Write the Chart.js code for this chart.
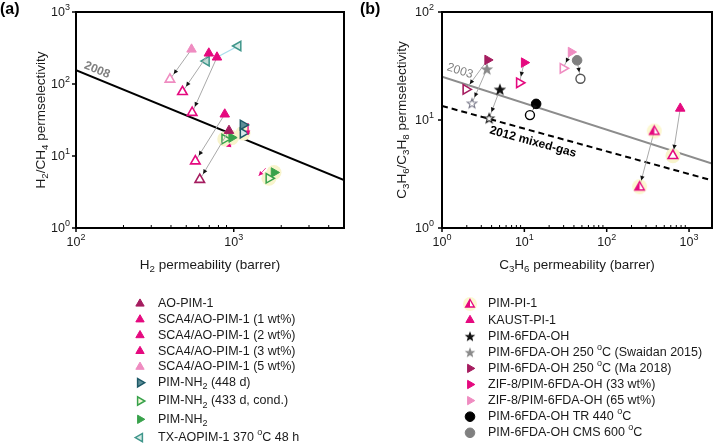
<!DOCTYPE html>
<html><head><meta charset="utf-8">
<script src="https://cdn.jsdelivr.net/npm/chart.js@4.4.1/dist/chart.umd.min.js"></script>
<style>
html,body{margin:0;padding:0;background:#fff;width:720px;height:444px;overflow:hidden}
#wrap{position:relative;width:720px;height:444px}
canvas{position:absolute;top:0}
#ca{left:0}#cb{left:360px}
</style></head><body>
<div id="wrap"><canvas id="ca" width="360" height="444"></canvas><canvas id="cb" width="360" height="444"></canvas></div>
<script>
// ================= DATA =================
// Panel (a): H2 permeability (barrer) vs H2/CH4 permselectivity. Each pair = [fresh, aged]
const aLegend = ['AO-PIM-1','SCA4/AO-PIM-1 (1 wt%)','SCA4/AO-PIM-1 (2 wt%)','SCA4/AO-PIM-1 (3 wt%)','SCA4/AO-PIM-1 (5 wt%)','PIM-NH_{2} (448 d)','PIM-NH_{2} (433 d, cond.)','PIM-NH_{2}','TX-AOPIM-1 370 ^{o}C 48 h'];
const h2AoPim1   = [[933, 22.5], [609, 4.7]];
const h2Sca4w1   = [[877, 38], [571, 8.5]];
const h2Sca4w2   = [[783, 235], [545, 40]];
const h2Sca4w3   = [[695, 267], [473, 78]];
const h2Sca4w5   = [[540, 303], [394, 116]];
const h2PimNh2d448 = [[1146, 27], [1146, 20.8]];
const h2PimNh2d433 = [[877, 17.2], [1671, 4.9]];
const h2PimNh2     = [[970, 18], [1800, 5.9]];
const h2TxAoPim1   = [[1065, 337], [671, 208]];
const h2SmallArrows = [[[1596, 6.8], [1439, 5.3]], [[966, 14.2], [899, 13.5]], [[1233, 28.7], [1233, 19.6]]];
const h2Bound2008  = [[100, 156], [5000, 4.64]];
const aXRange = [100, 5000];
const aYRange = [1, 1000];

// Panel (b): C3H6 permeability (barrer) vs C3H6/C3H8 permselectivity. Each pair = [fresh, aged]
const bLegend = ['PIM-PI-1','KAUST-PI-1','PIM-6FDA-OH','PIM-6FDA-OH 250 ^{o}C (Swaidan 2015)','PIM-6FDA-OH 250 ^{o}C (Ma 2018)','ZIF-8/PIM-6FDA-OH (33 wt%)','ZIF-8/PIM-6FDA-OH (65 wt%)','PIM-6FDA-OH TR 440 ^{o}C','PIM-6FDA-OH CMS 600 ^{o}C'];
const c3PimPi1    = [[378, 7.9], [251, 2.41]];
const c3KaustPi1  = [[782, 12.8], [637, 4.67]];
const c36fdaOh    = [[5.05, 19.2], [3.74, 10.4]];
const c3Swaidan   = [[3.51, 29.6], [2.31, 14.3]];
const c3Ma2018    = [[3.58, 36], [1.95, 19.2]];
const c3Zif33     = [[9.95, 34], [8.7, 22.1]];
const c3Zif65     = [[36.9, 42.6], [29.5, 30.1]];
const c3Tr440     = [[13.9, 14.1], [11.7, 11.1]];
const c3Cms600    = [[43.7, 35.7], [48, 24.1]];
const c3Bound2003 = [[1, 25.2], [1900, 3.95]];
const c3Mixed2012 = [[1, 13.5], [1900, 2.76]];
const bXRange = [1, 1900];
const bYRange = [1, 100];

// ================= STYLE =================
const FONT = '"Liberation Sans", Arial, Helvetica, sans-serif';
const COL = {dmag:'#A51C5F', mag:'#E5097F', lpink:'#EF8CC1', dteal:'#1D5967', green:'#38A24B', teal:'#3F968B',
             grey:'#8A8A8A', black:'#111111', arrow:'#A9A9A9', cyan:'#A9DDEC', halo:'#F8F4CC'};

function makeStar(fill, stroke, r){
  const s = Math.ceil(r*2+4), c = document.createElement('canvas'); c.width = c.height = s;
  const g = c.getContext('2d'); g.beginPath();
  for (let i=0;i<10;i++){ const rr = i%2 ? r*0.42 : r; const a = -Math.PI/2 + i*Math.PI/5; g.lineTo(s/2+rr*Math.cos(a), s/2+rr*Math.sin(a)+0.5); }
  g.closePath(); g.fillStyle = fill; g.fill(); g.strokeStyle = stroke; g.lineWidth = 1.1; g.stroke(); return c;
}
function makeHalfTri(color, r){
  const s = Math.ceil(r*2+6), c = document.createElement('canvas'); c.width = c.height = s;
  const g = c.getContext('2d'); const cx = s/2, cy = s/2+0.5;
  g.fillStyle = 'rgba(250,240,170,0.55)'; g.beginPath(); g.arc(cx, cy-0.5, r+2, 0, Math.PI*2); g.fill();
  const path = () => { g.beginPath(); let a = 0; for (let k=0;k<3;k++){ const px = cx+Math.sin(a)*r, py = cy-Math.cos(a)*r; k ? g.lineTo(px,py) : g.moveTo(px,py); a += 2*Math.PI/3; } g.closePath(); };
  path(); g.fillStyle = '#fff'; g.fill();
  g.save(); path(); g.clip(); g.fillStyle = color; g.fillRect(0, 0, cx, s); g.restore();
  path(); g.strokeStyle = color; g.lineWidth = 1.4; g.stroke(); return c;
}
const IMG = {
  starBlackF: makeStar('#111','#111',5), starBlackO: makeStar('#fff','#111',5), starBlackL: makeStar('#111','#111',4),
  starGreyF: makeStar(COL.grey,COL.grey,5), starGreyO: makeStar('#fff','#7a7a8a',5), starGreyL: makeStar(COL.grey,COL.grey,4),
  halfTri: makeHalfTri(COL.mag, 5.5), halfTriL: makeHalfTri(COL.mag, 5)
};

function mk(ps, rot, fill, stroke, lw, r){ return {ps, rot, fill, stroke, lw, r}; }
const TRI = 5.5;
function filledTri(c, rot){ return mk('triangle', rot||0, c, c, 1, TRI); }
function openTri(c, rot){ return mk('triangle', rot||0, '#fff', c, 1.6, TRI); }

// ================= HELPERS =================
function pts(arr){ return arr.map(p => ({x:p[0], y:p[1]})); }
function markerDataset(pair, stF, stA, withArrow, order){
  const sts = [stF, stA];
  return {
    data: pts(pair), showLine: !!withArrow, borderColor: COL.arrow, borderWidth: 1,
    pointStyle: sts.map(s => s.img || s.ps), pointRotation: sts.map(s => s.rot || 0),
    pointRadius: sts.map(s => s.r || TRI), pointBackgroundColor: sts.map(s => s.fill || '#fff'),
    pointBorderColor: sts.map(s => s.stroke || '#000'), pointBorderWidth: sts.map(s => s.lw || 1),
    arrow: withArrow ? {color:'#111', back: 6.5} : null, order: order || 1
  };
}
function lineDataset(pair, color, width, dash, order){
  return {data: pts(pair), showLine: true, borderColor: color, borderWidth: width, borderDash: dash || [], pointRadius: 0, order: order || 6};
}
function haloDataset(list){
  return {data: pts(list), showLine: false, pointRadius: 7.5, pointBackgroundColor: COL.halo, pointBorderWidth: 0, pointBorderColor: COL.halo, order: 5};
}
function parseRich(s){
  const out = []; let i = 0, buf = '';
  while (i < s.length){
    const ch = s[i];
    if ((ch === '_' || ch === '^') && s[i+1] === '{'){ if (buf){ out.push({t:buf, m:0}); buf=''; } const j = s.indexOf('}', i); out.push({t:s.slice(i+2, j), m: ch === '_' ? 1 : 2}); i = j+1; }
    else { buf += ch; i++; }
  }
  if (buf) out.push({t:buf, m:0}); return out;
}
function drawRich(ctx, s, x, y, size, opt){
  opt = opt || {}; const parts = parseRich(s); const w = opt.weight || 'normal';
  const fn = m => `${w} ${m ? size*0.72 : size}px ${FONT}`;
  let total = 0; for (const p of parts){ ctx.font = fn(p.m); p.w = ctx.measureText(p.t).width; total += p.w; }
  let sx = opt.align === 'right' ? x-total : opt.align === 'center' ? x-total/2 : x;
  ctx.textBaseline = 'middle'; ctx.textAlign = 'left'; ctx.fillStyle = opt.color || '#1a1a1a';
  for (const p of parts){ ctx.font = fn(p.m); const dy = p.m === 1 ? size*0.34 : p.m === 2 ? -size*0.4 : 0; ctx.fillText(p.t, sx, y+dy); sx += p.w; }
}
function drawMark(ctx, st, x, y){
  if (st.img){ const im = st.limg || st.img; ctx.drawImage(im, x-im.width/2, y-im.height/2); return; }
  const r = st.lr || st.r;
  ctx.save(); ctx.beginPath();
  if (st.ps === 'circle') ctx.arc(x, y, r, 0, Math.PI*2);
  else { let a = (st.rot||0)*Math.PI/180; for (let k=0;k<3;k++){ const px = x+Math.sin(a)*r, py = y-Math.cos(a)*r; k ? ctx.lineTo(px,py) : ctx.moveTo(px,py); a += 2*Math.PI/3; } ctx.closePath(); }
  ctx.fillStyle = st.fill; ctx.fill(); ctx.lineWidth = st.lw; ctx.strokeStyle = st.stroke; ctx.stroke(); ctx.restore();
}
function isDecade(v){ const l = Math.log10(v); return Math.abs(l-Math.round(l)) < 1e-6; }
function isNice(v){ const e = Math.pow(10, Math.floor(Math.log10(v)+1e-9)); const m = v/e; return Math.abs(m-Math.round(m)) < 1e-6; }

const decoPlugin = {
  id: 'deco',
  afterDatasetsDraw(chart){
    const ctx = chart.ctx;
    chart.data.datasets.forEach((ds, i) => {
      if (!ds.arrow) return;
      const m = chart.getDatasetMeta(i).data; if (m.length < 2) return;
      const p0 = m[0], p1 = m[m.length-1];
      const dx = p1.x-p0.x, dy = p1.y-p0.y, L = Math.hypot(dx, dy) || 1, ux = dx/L, uy = dy/L;
      const tx = p1.x-ux*ds.arrow.back, ty = p1.y-uy*ds.arrow.back, len = 4.5, hw = 2.2;
      ctx.save(); ctx.fillStyle = ds.arrow.color; ctx.beginPath();
      ctx.moveTo(tx, ty); ctx.lineTo(tx-ux*len-uy*hw, ty-uy*len+ux*hw); ctx.lineTo(tx-ux*len+uy*hw, ty-uy*len-ux*hw);
      ctx.closePath(); ctx.fill(); ctx.restore();
    });
  },
  afterDraw(chart, args, o){
    const ctx = chart.ctx, ca = chart.chartArea, xs = chart.scales.x, ys = chart.scales.y;
    ctx.save();
    // annotations along lines
    (o.notes || []).forEach(n => {
      const a = Math.atan2(ys.getPixelForValue(n.along[1][1]) - ys.getPixelForValue(n.along[0][1]), xs.getPixelForValue(n.along[1][0]) - xs.getPixelForValue(n.along[0][0]));
      ctx.save(); ctx.translate(xs.getPixelForValue(n.at[0]), ys.getPixelForValue(n.at[1])); ctx.rotate(a);
      drawRich(ctx, n.text, 0, 0, n.size, {align:'center', weight:n.weight, color:n.color}); ctx.restore();
    });
    // box
    ctx.strokeStyle = '#000'; ctx.lineWidth = 2; ctx.strokeRect(ca.left, ca.top, ca.right-ca.left, ca.bottom-ca.top);
    // x ticks
    xs.ticks.forEach(t => {
      const v = t.value; if (!isNice(v)) return; const px = xs.getPixelForValue(v);
      ctx.beginPath();
      if (isDecade(v)){ ctx.lineWidth = 1.5; ctx.moveTo(px, ca.bottom); ctx.lineTo(px, ca.bottom+4); ctx.stroke();
        drawRich(ctx, '10^{' + Math.round(Math.log10(v)) + '}', px, ca.bottom+15, 12.5, {align:'center'}); }
      else if (px > ca.left+2 && px < ca.right-2){ ctx.lineWidth = 1; ctx.moveTo(px, ca.bottom); ctx.lineTo(px, ca.bottom-3); ctx.stroke(); }
    });
    ys.ticks.forEach(t => {
      const v = t.value; if (!isDecade(v)) return; const py = ys.getPixelForValue(v);
      ctx.beginPath(); ctx.lineWidth = 1.5; ctx.moveTo(ca.left, py); ctx.lineTo(ca.left-4, py); ctx.stroke();
      drawRich(ctx, '10^{' + Math.round(Math.log10(v)) + '}', ca.left-o.yGap, py+1, 12.5, {align:'right'});
    });
    // titles
    drawRich(ctx, o.xTitle, (ca.left+ca.right)/2, ca.bottom+37, 13.5, {align:'center'});
    ctx.save(); ctx.translate(o.yTitleX, (ca.top+ca.bottom)/2); ctx.rotate(-Math.PI/2);
    drawRich(ctx, o.yTitle, 0, 0, 13.5, {align:'center'}); ctx.restore();
    drawRich(ctx, o.panel, 0, 10, 16, {weight:'bold', color:'#000'});
    // legend
    let y = o.legend.y0;
    o.legend.rows.forEach((row, i) => {
      if (i > 0) y += o.legend.step + ((o.legend.subExtra && o.legend.rows[i-1].label.indexOf('_{') >= 0) ? o.legend.subExtra : 0);
      drawMark(ctx, row.st, o.legend.mx, y);
      drawRich(ctx, row.label, o.legend.tx, y, 12.5, {});
    });
    ctx.restore();
  }
};

function scalesFor(xr, yr, yw){
  const common = {type:'logarithmic', grid:{display:false}, border:{display:false}, ticks:{display:false}, title:{display:false}};
  return {
    x: Object.assign({}, common, {min: xr[0], max: xr[1], position:'bottom', afterFit(s){ s.height = 40; }}),
    y: Object.assign({}, common, {min: yr[0], max: yr[1], position:'left', afterFit(s){ s.width = yw; }})
  };
}

// ================= PANEL (a) =================
const stA = [
  {f: filledTri(COL.dmag), a: openTri(COL.dmag)},
  {f: filledTri(COL.mag), a: openTri(COL.mag)},
  {f: filledTri(COL.mag), a: openTri(COL.mag)},
  {f: filledTri(COL.mag), a: openTri(COL.mag)},
  {f: filledTri(COL.lpink), a: openTri(COL.lpink)},
  {f: mk('triangle', 90, '#5F8F98', COL.dteal, 1.5, TRI), a: mk('triangle', 90, '#D7E7EA', COL.dteal, 1.5, TRI)},
  {f: mk('triangle', 90, '#F4F8DA', COL.green, 1.5, TRI), a: mk('triangle', 90, '#F4F8DA', COL.green, 1.5, TRI)},
  {f: mk('triangle', 90, COL.green, COL.green, 1, TRI), a: mk('triangle', 90, COL.green, COL.green, 1, TRI)},
  {f: mk('triangle', -90, '#D5EAE5', COL.teal, 1.5, TRI), a: mk('triangle', -90, '#BFDDD6', COL.teal, 1.5, TRI)}
];
const aSeries = [h2AoPim1, h2Sca4w1, h2Sca4w2, h2Sca4w3, h2Sca4w5, h2PimNh2d448, h2PimNh2d433, h2PimNh2, h2TxAoPim1];
const aArrow = [true, true, true, true, true, false, false, false, false];
const aDatasets = [];
aSeries.forEach((s, i) => aDatasets.push(markerDataset(s, stA[i].f, stA[i].a, aArrow[i], 1)));
aDatasets.push(lineDataset([h2Sca4w2[0], h2TxAoPim1[0]], COL.cyan, 1.3, null, 3));
h2SmallArrows.forEach(p => { const d = lineDataset(p, '#F0489A', 1, null, 2); d.arrow = {color:'#E5097F', back: 0}; aDatasets.push(d); });
aDatasets.push(haloDataset([...h2PimNh2d433, ...h2PimNh2, h2PimNh2d448[1]]));
aDatasets.push(lineDataset(h2Bound2008, '#000', 2, null, 6));

new Chart(document.getElementById('ca'), {
  type: 'scatter',
  data: {datasets: aDatasets},
  options: {
    responsive: false, animation: false, devicePixelRatio: 1, events: [],
    layout: {padding: {left: 0, top: 12, right: 16, bottom: 176}},
    scales: scalesFor(aXRange, aYRange, 76),
    plugins: {
      legend: {display: false}, tooltip: {enabled: false},
      deco: {
        panel: '(a)', xTitle: 'H_{2} permeability (barrer)', yTitle: 'H_{2}/CH_{4} permselectivity', yTitleX: 41, yGap: 6,
        notes: [{text: '2008', at: [136, 156], along: h2Bound2008, size: 12, weight: 'bold', color: '#808080'}],
        legend: {mx: 140, tx: 158, y0: 303.7, step: 15.8, subExtra: 2.5,
          rows: aLegend.map((l, i) => ({label: l, st: Object.assign({}, stA[i].f, {lr: 4.8})}))}
      }
    }
  },
  plugins: [decoPlugin]
});

// ================= PANEL (b) =================
const stB = [
  {f: {img: IMG.halfTri, limg: IMG.halfTriL, r: 5}, a: {img: IMG.halfTri, r: 5}},
  {f: filledTri(COL.mag), a: openTri(COL.mag)},
  {f: {img: IMG.starBlackF, limg: IMG.starBlackL, r: 5}, a: {img: IMG.starBlackO, r: 5}},
  {f: {img: IMG.starGreyF, limg: IMG.starGreyL, r: 5}, a: {img: IMG.starGreyO, r: 5}},
  {f: filledTri(COL.dmag, 90), a: openTri(COL.dmag, 90)},
  {f: filledTri(COL.mag, 90), a: openTri(COL.mag, 90)},
  {f: filledTri(COL.lpink, 90), a: openTri(COL.lpink, 90)},
  {f: mk('circle', 0, '#000', '#000', 1, 4.8), a: mk('circle', 0, '#fff', '#000', 1.4, 4.5)},
  {f: mk('circle', 0, '#808080', '#808080', 1, 4.8), a: mk('circle', 0, '#fff', '#555', 1.4, 4.5)}
];
const bSeries = [c3PimPi1, c3KaustPi1, c36fdaOh, c3Swaidan, c3Ma2018, c3Zif33, c3Zif65, c3Tr440, c3Cms600];
const bDatasets = [];
bSeries.forEach((s, i) => bDatasets.push(markerDataset(s, stB[i].f, stB[i].a, true, 1)));
bDatasets.push(haloDataset([c3KaustPi1[1]]));
bDatasets.push(lineDataset(c3Bound2003, '#8C8C8C', 2, null, 6));
bDatasets.push(lineDataset(c3Mixed2012, '#000', 2, [6, 4], 6));

new Chart(document.getElementById('cb'), {
  type: 'scatter',
  data: {datasets: bDatasets},
  options: {
    responsive: false, animation: false, devicePixelRatio: 1, events: [],
    layout: {padding: {left: 0, top: 12, right: 8, bottom: 176}},
    scales: scalesFor(bXRange, bYRange, 82),
    plugins: {
      legend: {display: false}, tooltip: {enabled: false},
      deco: {
        panel: '(b)', xTitle: 'C_{3}H_{6} permeability (barrer)', yTitle: 'C_{3}H_{6}/C_{3}H_{8} permselectivity', yTitleX: 42, yGap: 8,
        notes: [
          {text: '2003', at: [1.65, 28.4], along: c3Bound2003, size: 12, weight: 'normal', color: '#808080'},
          {text: '2012 mixed-gas', at: [12.7, 6.25], along: c3Mixed2012, size: 12, weight: 'bold', color: '#000'}
        ],
        legend: {mx: 110, tx: 128, y0: 304, step: 16.1, subExtra: 0,
          rows: bLegend.map((l, i) => ({label: l, st: Object.assign({}, stB[i].f, {lr: 4.8})}))}
      }
    }
  },
  plugins: [decoPlugin]
});
</script>
</body></html>
